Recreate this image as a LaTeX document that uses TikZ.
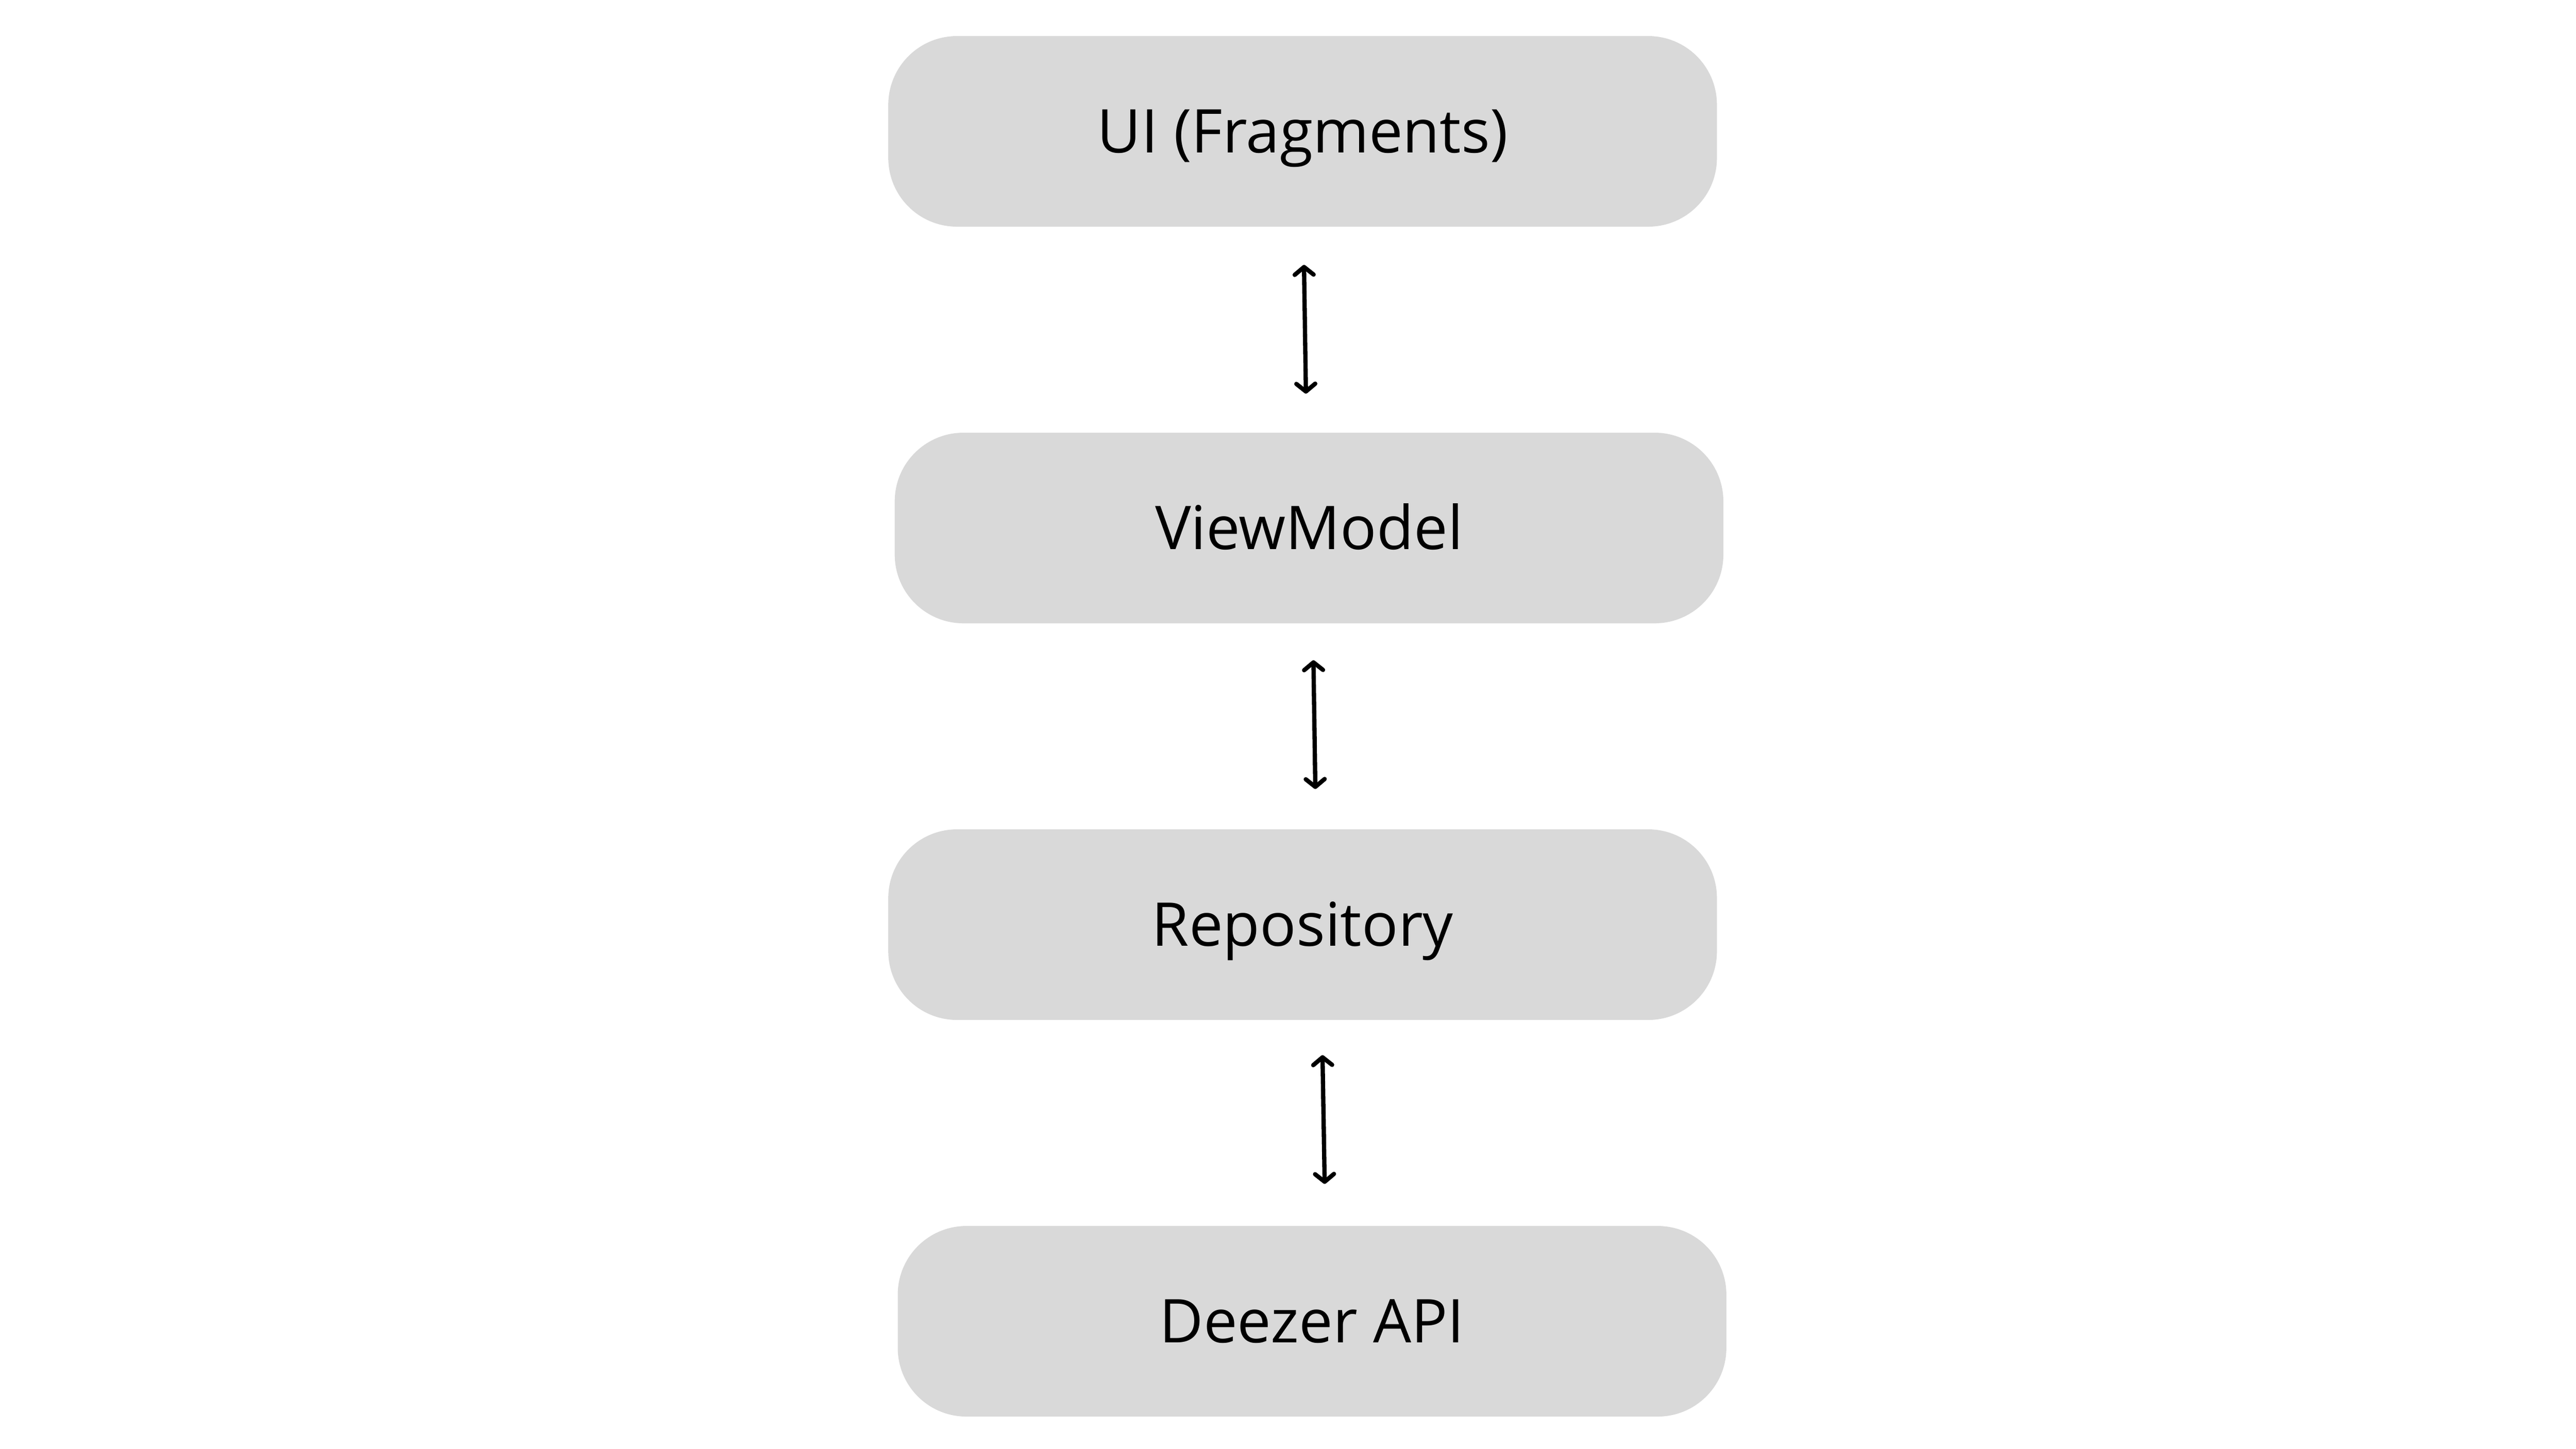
\documentclass[tikz,border=0pt]{standalone}
\usepackage{fontspec}
\setmainfont{Open Sans}
\usepackage{tikz}
\usetikzlibrary{arrows.meta}
\usetikzlibrary{positioning}
\definecolor{layergray}{HTML}{D9D9D9}
\tikzset{>={Straight Barb[length=0.9mm,width=2.2mm,round]}}
\tikzset{layer/.style={rectangle,
  rounded corners=0.8cm,
  fill=layergray,
  minimum width=9.65cm,
  minimum height=2.22cm,
  inner sep=0pt,
  text height=14.3pt,
  text depth=0pt,
  font=\fontsize{20}{24}\selectfont}}

\begin{document}
\begin{tikzpicture}[<->,line width=0.05cm]

 % page frame
 \useasboundingbox (0,0) rectangle (30,-16.875);

 % top layer
 \node[layer,
  anchor=center] (UI) at (15.17,-1.53)
 {UI (Fragments)};

 % second layer
 \node[layer,
  below of=UI,		% under the UI box
  node distance=4.62cm,	% centre to centre
  xshift=0.075cm,
  anchor=center] (ViewModel)
 {ViewModel};

 % third layer
 \node[layer,
  below of=ViewModel,
  node distance=4.62cm,
  xshift=-0.075cm,
  anchor=center] (Repository)
 {Repository};

 % bottom layer
 \node[layer,
  below of=Repository,
  node distance=4.62cm,
  xshift=0.11cm,
  anchor=center] (Deezer)
 {Deezer API};

 % the two-way links between the layers
 \path ([xshift=0.01cm]UI.south) edge[shorten <=0.42cm, shorten >=0.43cm] ([xshift=-0.03cm]ViewModel.north)
 ([xshift=0.045cm]ViewModel.south) edge[shorten <=0.405cm, shorten >=0.445cm] ([xshift=0.155cm]Repository.north)
 ([xshift=0.225cm]Repository.south) edge[shorten <=0.385cm, shorten >=0.465cm] ([xshift=0.155cm]Deezer.north);

\end{tikzpicture}
\end{document}
